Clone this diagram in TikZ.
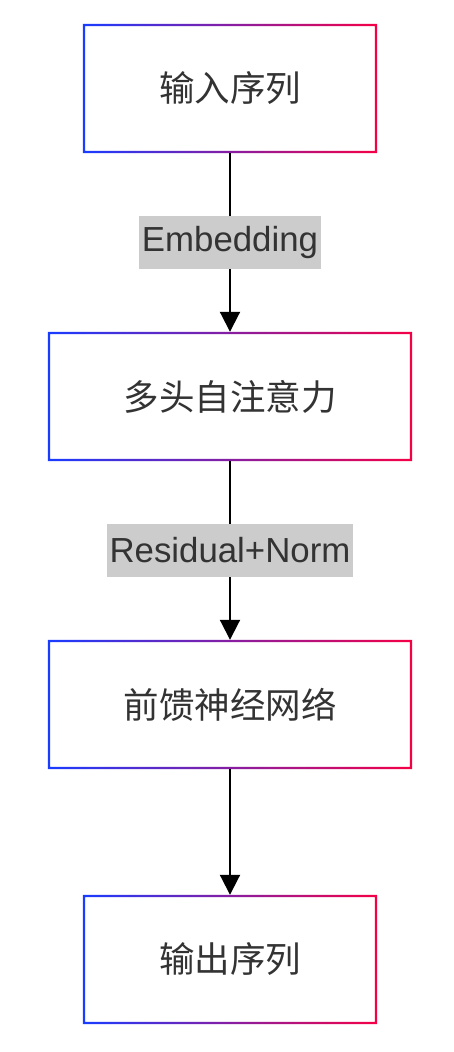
\documentclass[tikz,border=0pt]{standalone}
\usepackage{fontspec}
\setmainfont{Liberation Sans}
\newfontfamily\cjk{Noto Sans CJK SC}
\usetikzlibrary{arrows.meta,backgrounds}
\definecolor{gl}{RGB}{25,60,255}
\definecolor{gr}{RGB}{245,0,70}
\definecolor{txt}{RGB}{51,51,51}
\definecolor{lbl}{RGB}{204,204,204}
\tikzset{
  gbox/.style={rectangle, minimum height=129pt, inner sep=0pt, fill=white,
    text=txt, font=\cjk\fontsize{35.5}{40}\selectfont},
  edgelabel/.style={fill=lbl, text=txt, font=\fontsize{34.8}{40}\selectfont,
    inner xsep=2.5pt, inner ysep=0pt, minimum height=53pt},
  link/.style={line width=2pt, -{Triangle[length=20pt,width=20pt]}},
}
\newcommand\gborder[1]{%
  \shade[left color=gl, right color=gr, even odd rule]
    (#1.north west) rectangle (#1.south east)
    ([xshift=2.4pt,yshift=-2.4pt]#1.north west) rectangle ([xshift=-2.4pt,yshift=2.4pt]#1.south east);
  \begin{pgfonlayer}{background}
    \fill[black, opacity=0.05] ([xshift=-2pt,yshift=-5pt]#1.north west) rectangle ([xshift=3pt,yshift=-5pt]#1.south east);
    \fill[black, opacity=0.05] ([xshift=-0.5pt,yshift=-2pt]#1.north west) rectangle ([xshift=1.5pt,yshift=-3pt]#1.south east);
  \end{pgfonlayer}
}
\begin{document}
\begin{tikzpicture}[x=1pt,y=1pt]
\useasboundingbox[fill=white] (0,0) rectangle (454,1052);
\node[gbox, minimum width=294pt] (in)  at (230,963.5) {输入序列};
\node[gbox, minimum width=364pt] (att) at (230,655.5) {多头自注意力};
\node[gbox, minimum width=364pt] (ffn) at (230,347.5) {前馈神经网络};
\node[gbox, minimum width=294pt] (out) at (230,92.5)  {输出序列};
\gborder{in}
\gborder{att}
\gborder{ffn}
\gborder{out}
\draw[link] (in.south) -- node[edgelabel] (l1) {Embedding} (att.north);
\draw[link] (att.south) -- node[edgelabel] (l2) {Residual+Norm} (ffn.north);
\draw[link] (ffn.south) -- (out.north);
\end{tikzpicture}
\end{document}
